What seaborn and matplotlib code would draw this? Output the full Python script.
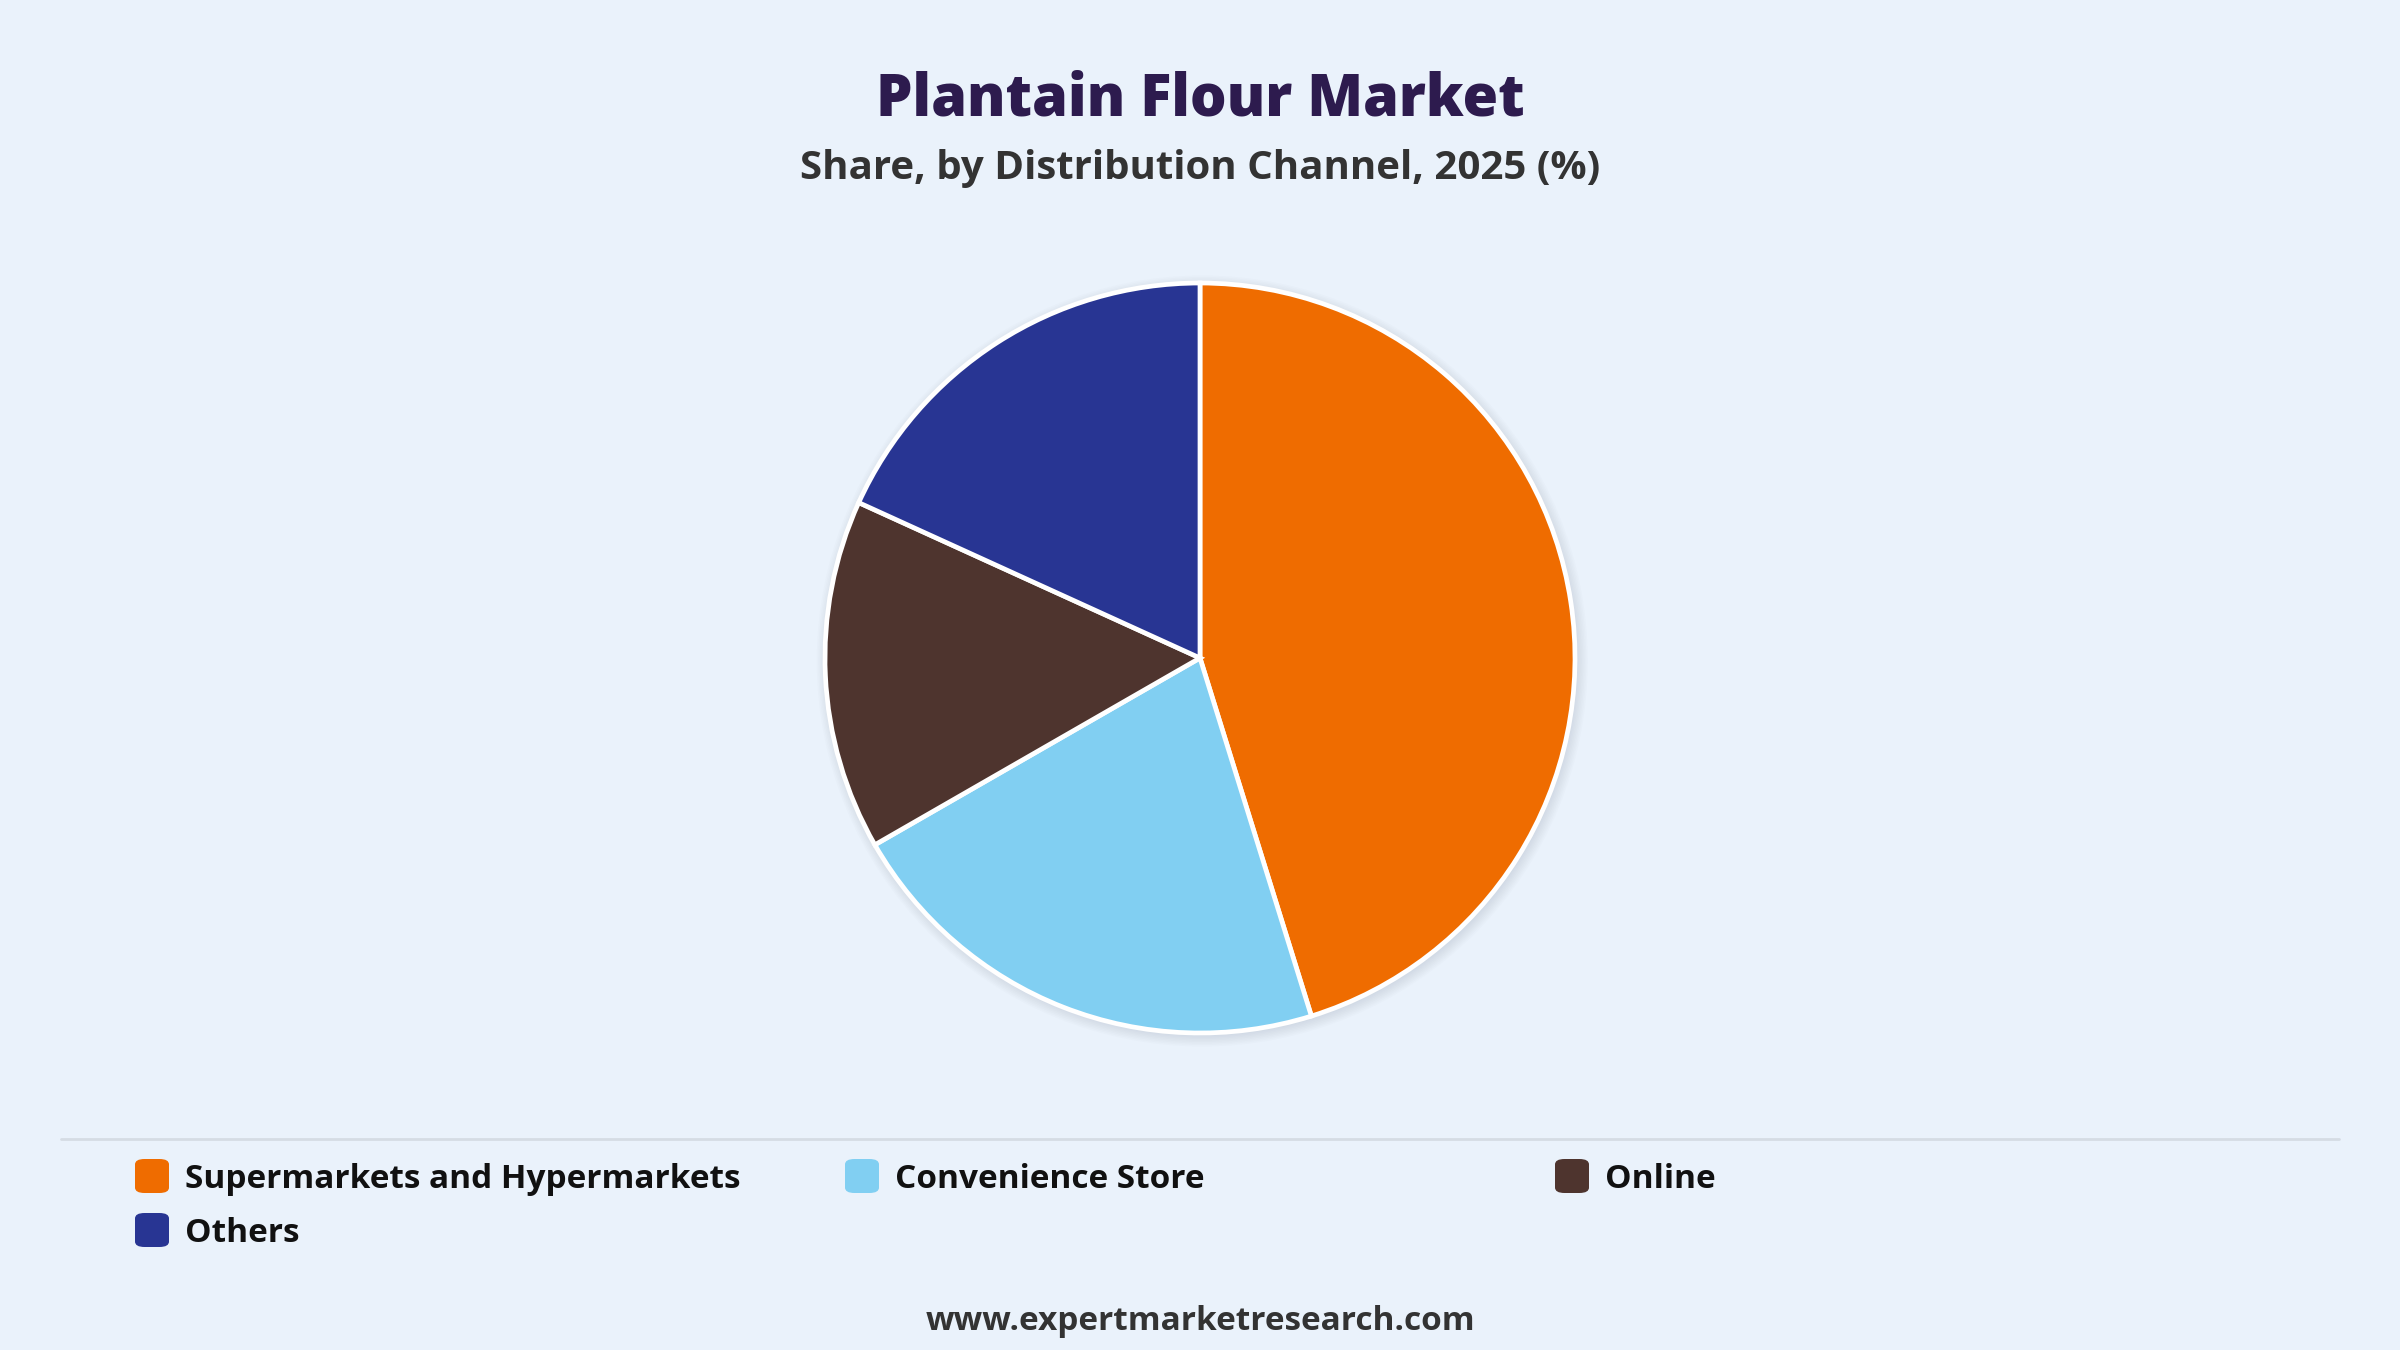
import matplotlib
matplotlib.use("Agg")
import matplotlib.pyplot as plt
import seaborn as sns
from matplotlib.patches import FancyBboxPatch, Circle
from matplotlib.lines import Line2D

# ---- data ----
categories = ["Supermarkets and Hypermarkets", "Convenience Store", "Online", "Others"]
shares = [45.2, 21.5, 15.1, 18.2]
colors = ["#EF6C00", "#81CFF2", "#4E342E", "#283593"]
title = "Plantain Flour Market"
subtitle = "Share, by Distribution Channel, 2025 (%)"
footer = "www.expertmarketresearch.com"

BG = "#EAF2FB"
sns.set_theme(style="white")
plt.rcParams["font.family"] = ["Open Sans", "DejaVu Sans"]

W, H = 2400, 1350
fig = plt.figure(figsize=(24, 13.5), dpi=100, facecolor=BG)

# pie axes: center (1200, 658) px, radius 375 px
cx, cy, r = 1200, 658, 375
ax = fig.add_axes([(cx - r) / W, 1 - (cy + r) / H, 2 * r / W, 2 * r / H])
ax.set_facecolor("none")
ax.axis("off")

# subtle shadow
for k in range(8):
    ax.add_patch(Circle((0.006, -0.008), 1.0 + 0.004 * k, facecolor="#9aa6b5",
                        edgecolor="none", alpha=0.035, zorder=0, clip_on=False))

ax.pie(shares, colors=colors, startangle=90, counterclock=False, radius=1.0,
       wedgeprops=dict(edgecolor="white", linewidth=3.4, joinstyle="miter"))
ax.set_xlim(-1, 1)
ax.set_ylim(-1, 1)
ax.set_aspect("equal")

# titles
fig.text(0.5, 1 - 100 / H, title, ha="center", va="center", fontsize=41.5,
         fontweight="heavy", color="#2D1B4E")
fig.text(0.5, 1 - 168 / H, subtitle, ha="center", va="center", fontsize=29,
         fontweight="bold", color="#333333")

# separator
fig.add_artist(Line2D([61 / W, 2339 / W], [1 - 1139 / H, 1 - 1139 / H],
                      color="#D5DCE4", linewidth=2))

# legend
col_x = [135, 845, 1555]
row_y = [1176, 1230]
sq = 34
for i, (cat, col) in enumerate(zip(categories, colors)):
    x0 = col_x[i % 3]
    y0 = row_y[i // 3]
    fig.add_artist(FancyBboxPatch((x0 / W, 1 - (y0 + sq / 2) / H), sq / W, sq / H,
                                  boxstyle="round,pad=0,rounding_size=0.004",
                                  facecolor=col, edgecolor="none",
                                  transform=fig.transFigure))
    fig.text((x0 + sq + 16) / W, 1 - (y0 + 3) / H, cat, ha="left", va="center",
             fontsize=24, fontweight="bold", color="#111111")

fig.text(0.5, 1 - 1322 / H, footer, ha="center", va="center", fontsize=24,
         fontweight="bold", color="#333333")

fig.savefig("out.png", dpi=100, facecolor=BG)
